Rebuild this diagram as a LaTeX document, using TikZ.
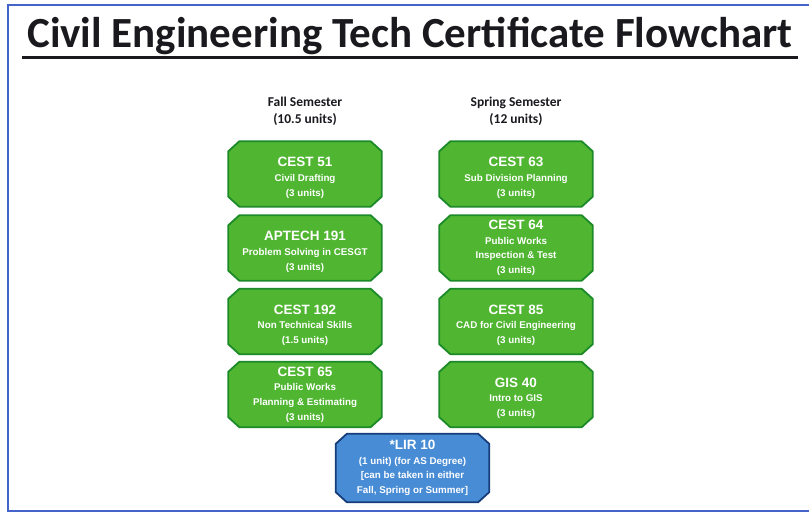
\documentclass[tikz,border=0pt]{standalone}
\usepackage{fontspec}
\setmainfont{Liberation Sans}
\newfontfamily\titlefont{Carlito}
\usetikzlibrary{calc}
\pgfdeclarelayer{background}
\pgfsetlayers{background,main}
\definecolor{framebl}{RGB}{68,100,204}
\definecolor{gfill}{RGB}{80,182,50}
\definecolor{gedge}{RGB}{28,138,40}
\definecolor{bfill}{RGB}{72,140,214}
\definecolor{bedge}{RGB}{22,62,122}
\definecolor{inkc}{RGB}{25,25,30}
\tikzset{
  x=1pt,y=-1pt,
  course/.style={rectangle, minimum width=153pt, minimum height=65pt,
    inner sep=0pt, text=white, align=center,
    font=\fontsize{9.8}{14.6}\selectfont\bfseries},
  greenskin/.style={draw=gedge, fill=gfill, line width=1.8pt, line join=miter},
  blueskin/.style={draw=bedge, fill=bfill, line width=1.8pt, line join=miter},
  semhead/.style={align=center, text=inkc, font=\titlefont\bfseries\fontsize{13.5}{17}\selectfont},
}
\newcommand{\ctitle}[1]{{\fontsize{13.5}{14.6}\selectfont #1}}
\newcommand{\ctitlelow}[1]{{\fontsize{13.5}{14.6}\selectfont\rule{0pt}{17pt}#1}}
\newcommand{\chbox}[2]{%
  \path[#2] ($(#1.north west)+(11,0)$) -- ($(#1.north east)+(-11,0)$)
    -- ($(#1.north east)+(0,10)$) -- ($(#1.south east)+(0,-10)$)
    -- ($(#1.south east)+(-11,0)$) -- ($(#1.south west)+(11,0)$)
    -- ($(#1.south west)+(0,-10)$) -- ($(#1.north west)+(0,10)$) -- cycle;}
\begin{document}
\begin{tikzpicture}
\useasboundingbox (0,0) rectangle (809,514);
% frame
\draw[framebl, line width=2pt] (809,5) -- (8,5) -- (8,511) -- (809,511);
% title
\node[anchor=base, text=inkc, font=\titlefont\bfseries\fontsize{43}{46}\selectfont] (title) at (410,47) {Civil Engineering Tech Certificate Flowchart};
\coordinate (ulA) at (22,57);
\coordinate (ulB) at (798,57);
\draw[inkc, line width=3pt] (ulA) -- (ulB);
% headers
\node[semhead] (fall) at (305,111) {Fall Semester\\(10.5 units)};
\node[semhead] (spring) at (516,111) {Spring Semester\\(12 units)};
% left column
\node[course] (c51) at (305,174) {\ctitlelow{CEST 51}\\Civil Drafting\\(3 units)};
\node[course] (a191) at (305,248) {\ctitlelow{APTECH 191}\\Problem Solving in CESGT\\(3 units)};
\node[course] (c192) at (305,321.5) {\ctitlelow{CEST 192}\\Non Technical Skills\\(1.5 units)};
\node[course] (c65) at (305,394.5) {\ctitle{CEST 65}\\Public Works\\Planning \& Estimating\\(3 units)};
% right column
\node[course] (c63) at (516,174) {\ctitlelow{CEST 63}\\Sub Division Planning\\(3 units)};
\node[course] (c64) at (516,248) {\ctitle{CEST 64}\\Public Works\\Inspection \& Test\\(3 units)};
\node[course] (c85) at (516,321.5) {\ctitlelow{CEST 85}\\CAD for Civil Engineering\\(3 units)};
\node[course] (g40) at (516,394.5) {\ctitlelow{GIS 40}\\Intro to GIS\\(3 units)};
% LIR
\node[course, minimum height=68pt] (lir) at (412.5,468) {\ctitle{*LIR 10}\\(1 unit) (for AS Degree)\\{[}can be taken in either\\Fall, Spring or Summer{]}};
\begin{pgfonlayer}{background}
  \foreach \n in {c51,a191,c192,c65,c63,c64,c85,g40} {\chbox{\n}{greenskin}}
  \chbox{lir}{blueskin}
\end{pgfonlayer}
\end{tikzpicture}
\end{document}
